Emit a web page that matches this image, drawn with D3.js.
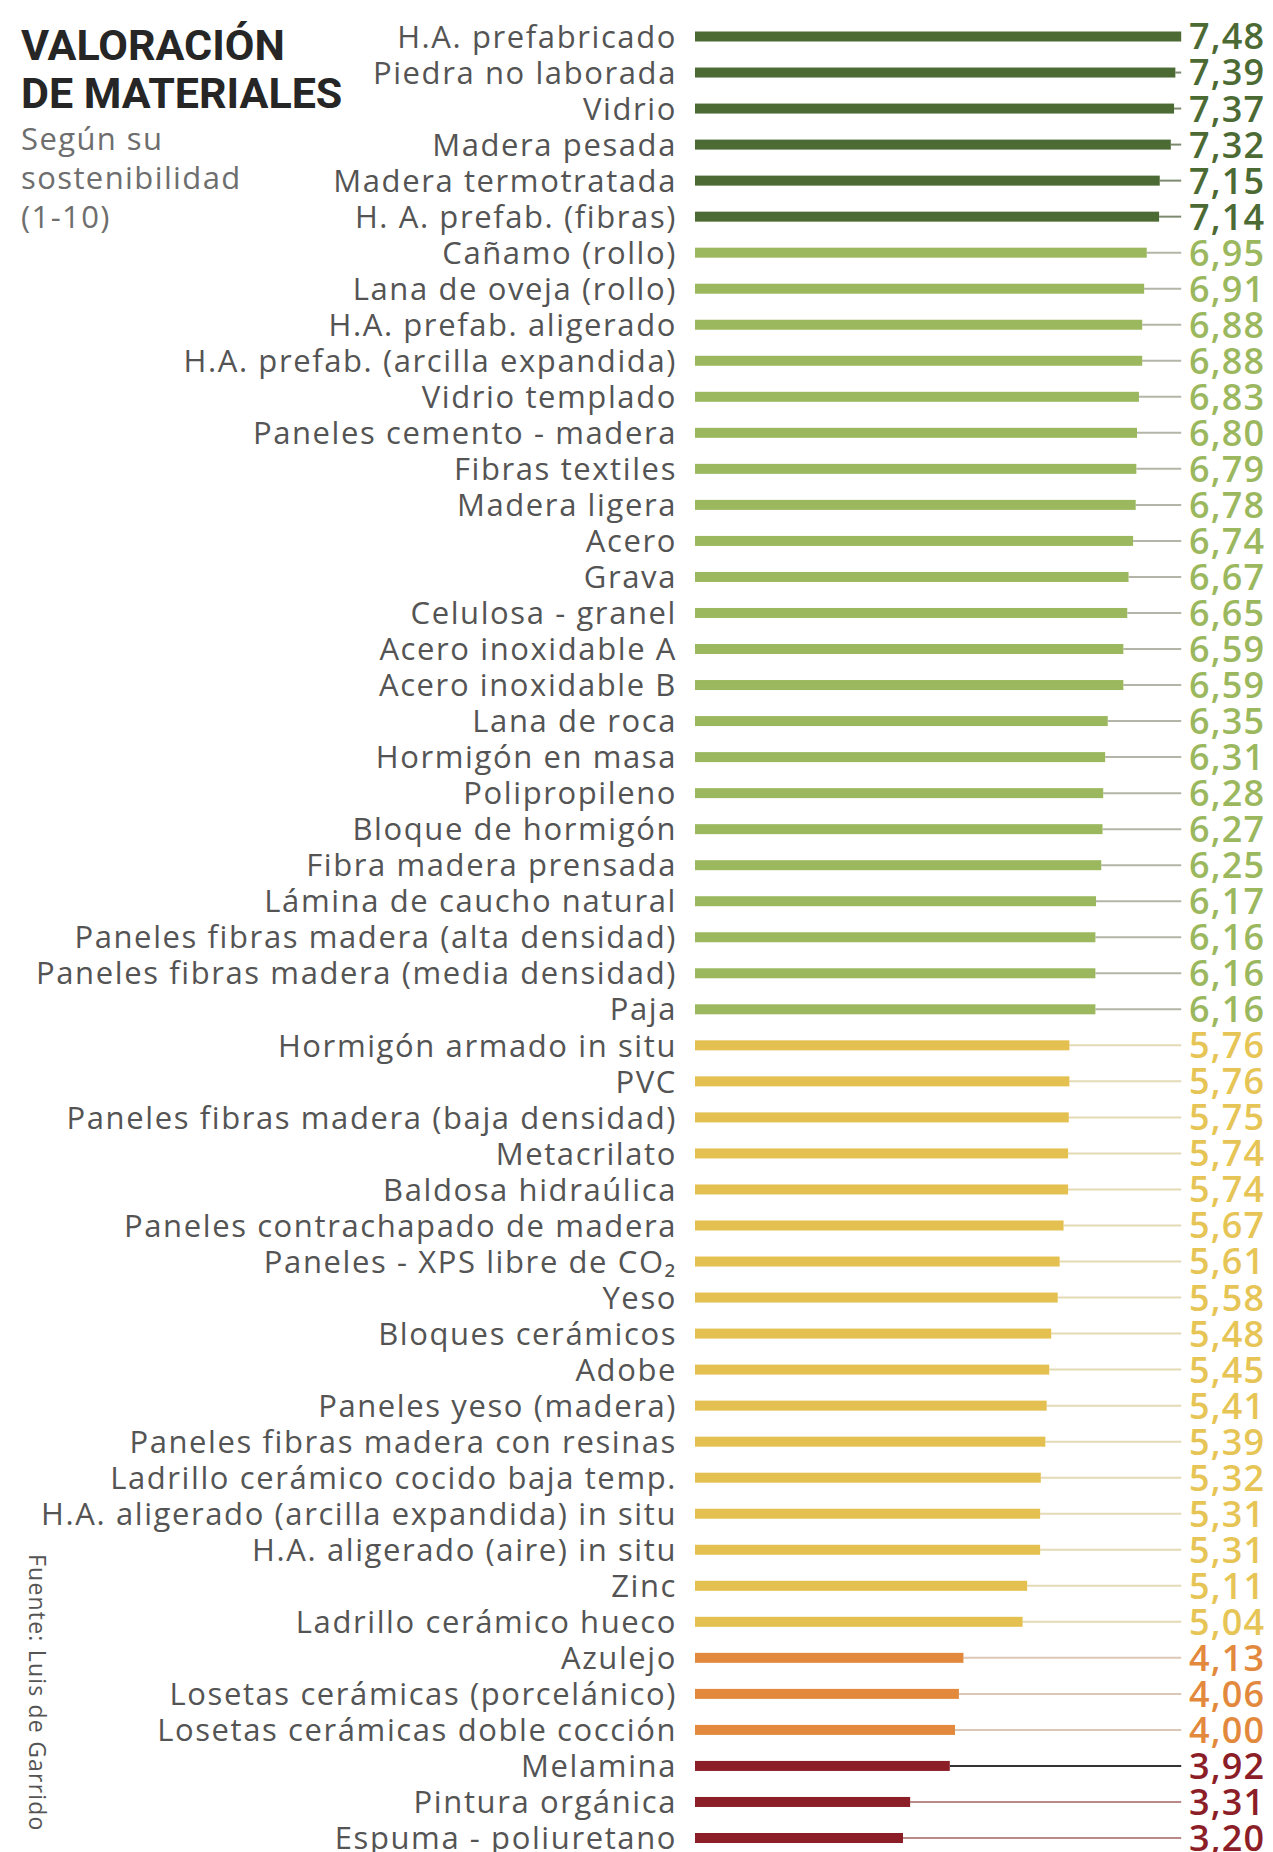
<!DOCTYPE html>
<html lang="es">
<head>
<meta charset="UTF-8">
<title>Valoración de materiales</title>
<script src="https://d3js.org/d3.v7.min.js"></script>
<style>
  body { margin: 0; background: #fff; }
  svg { display: block; }
</style>
</head>
<body>
<script>
const materials = [
  "H.A. prefabricado", "Piedra no laborada", "Vidrio", "Madera pesada",
  "Madera termotratada", "H. A. prefab. (fibras)", "Cañamo (rollo)",
  "Lana de oveja (rollo)", "H.A. prefab. aligerado", "H.A. prefab. (arcilla expandida)",
  "Vidrio templado", "Paneles cemento - madera", "Fibras textiles", "Madera ligera",
  "Acero", "Grava", "Celulosa - granel", "Acero inoxidable A", "Acero inoxidable B",
  "Lana de roca", "Hormigón en masa", "Polipropileno", "Bloque de hormigón",
  "Fibra madera prensada", "Lámina de caucho natural",
  "Paneles fibras madera (alta densidad)", "Paneles fibras madera (media densidad)",
  "Paja", "Hormigón armado in situ", "PVC", "Paneles fibras madera (baja densidad)",
  "Metacrilato", "Baldosa hidraúlica", "Paneles contrachapado de madera",
  "Paneles - XPS libre de CO₂", "Yeso", "Bloques cerámicos", "Adobe",
  "Paneles yeso (madera)", "Paneles fibras madera con resinas",
  "Ladrillo cerámico cocido baja temp.", "H.A. aligerado (arcilla expandida) in situ",
  "H.A. aligerado (aire) in situ", "Zinc", "Ladrillo cerámico hueco", "Azulejo",
  "Losetas cerámicas (porcelánico)", "Losetas cerámicas doble cocción", "Melamina",
  "Pintura orgánica", "Espuma - poliuretano"
];

const scores = [
  7.48, 7.39, 7.37, 7.32, 7.15, 7.14, 6.95, 6.91, 6.88, 6.88,
  6.83, 6.80, 6.79, 6.78, 6.74, 6.67, 6.65, 6.59, 6.59, 6.35,
  6.31, 6.28, 6.27, 6.25, 6.17, 6.16, 6.16, 6.16, 5.76, 5.76,
  5.75, 5.74, 5.74, 5.67, 5.61, 5.58, 5.48, 5.45, 5.41, 5.39,
  5.32, 5.31, 5.31, 5.11, 5.04, 4.13, 4.06, 4.00, 3.92, 3.31,
  3.20
];

// tramos de color: <4 rojo, 4-5 naranja, 5-6 amarillo, 6-7 verde claro, >=7 verde oscuro
const breaks = [4, 5, 6, 7];
const barColors = ["#8c1e28", "#e2893d", "#e3c04f", "#9cb85f", "#4c6a34"];
const textColors = ["#8c1e28", "#e2893d", "#e6c556", "#9cb85f", "#4c6a34"];
const guideColors = ["#b88a8a", "#dcc6b6", "#e4dab4", "#b4b4a8", "#7d8a70"];

const data = materials.map((m, i) => ({ name: m, value: scores[i] }));

const W = 1273, H = 1852;
const svg = d3.select("body").append("svg")
  .attr("width", W)
  .attr("height", H);

const x = d3.scaleLinear().domain([0, 10]).range([695, 1345]);
const y = d3.scalePoint().domain(materials).range([36.5, 1838]);
const bar = d3.scaleThreshold().domain(breaks).range(barColors);
const txt = d3.scaleThreshold().domain(breaks).range(textColors);
const guide = d3.scaleThreshold().domain(breaks).range(guideColors);
const fmt = d3.format(".2f");
const xMax = x(d3.max(scores));

const labelFont = "'Open Sans', sans-serif";

// titulo
const title = svg.append("g");
title.selectAll("text.t")
  .data(["VALORACIÓN", "DE MATERIALES"])
  .join("text")
  .attr("class", "t")
  .attr("x", 21)
  .attr("y", (d, i) => 60 + i * 48)
  .style("font-family", "Roboto, sans-serif")
  .style("font-weight", 700)
  .style("font-size", "43px")
  .style("fill", "#262626")
  .text(d => d);

title.selectAll("text.s")
  .data(["Según su", "sostenibilidad", "(1-10)"])
  .join("text")
  .attr("class", "s")
  .attr("x", 21)
  .attr("y", (d, i) => 150 + i * 39)
  .style("font-family", labelFont)
  .style("font-size", "31px")
  .style("letter-spacing", "1.4px")
  .style("fill", "#6e6e6e")
  .text(d => d);

const rows = svg.append("g")
  .selectAll("g")
  .data(data)
  .join("g")
  .attr("transform", d => `translate(0,${y(d.name)})`);

// linea fina hasta el maximo
rows.append("line")
  .attr("x1", d => x(d.value))
  .attr("x2", xMax)
  .attr("stroke", d => d.name === "Melamina" ? "#333" : guide(d.value))
  .attr("stroke-width", 2);

rows.append("rect")
  .attr("x", x(0))
  .attr("y", -5)
  .attr("width", d => x(d.value) - x(0))
  .attr("height", 10)
  .attr("fill", d => bar(d.value));

rows.append("text")
  .attr("x", 677)
  .attr("dy", "0.36em")
  .attr("text-anchor", "end")
  .style("font-family", labelFont)
  .style("font-size", "31px")
  .style("letter-spacing", "1.6px")
  .style("fill", "#545454")
  .text(d => d.name);

rows.append("text")
  .attr("x", 1189)
  .attr("dy", "0.36em")
  .style("font-family", labelFont)
  .style("font-weight", 600)
  .style("font-size", "36px")
  .style("letter-spacing", "1.2px")
  .style("fill", d => txt(d.value))
  .text(d => fmt(d.value).replace(".", ","));

// fuente
svg.append("text")
  .attr("transform", "translate(29,1554) rotate(90)")
  .style("font-family", labelFont)
  .style("font-size", "23px")
  .style("letter-spacing", "1.2px")
  .style("fill", "#555")
  .text("Fuente: Luis de Garrido");
</script>
</body>
</html>
